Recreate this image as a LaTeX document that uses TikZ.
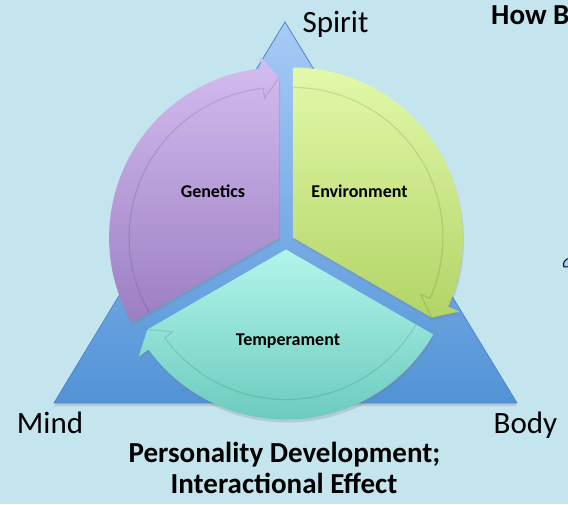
\documentclass[tikz,border=0pt]{standalone}
\usepackage{fontspec}
\setmainfont{Carlito}
\usetikzlibrary{shadows}
\definecolor{slidebg}{RGB}{196,228,238}
\definecolor{triTop}{RGB}{166,203,247}
\definecolor{triBot}{RGB}{82,147,214}
\definecolor{triEdge}{RGB}{79,134,198}
\definecolor{genTop}{RGB}{212,189,240}
\definecolor{genBot}{RGB}{156,126,194}
\definecolor{envTop}{RGB}{226,249,170}
\definecolor{envBot}{RGB}{178,212,102}
\definecolor{temTop}{RGB}{178,245,236}
\definecolor{temBot}{RGB}{108,203,190}
\tikzset{
  seg/.style={drop shadow={opacity=0.25,shadow xshift=1pt,shadow yshift=-3pt}},
  band/.style={line width=1.2pt,black,opacity=0.1},
  corner/.style={font=\fontsize{31}{36}\selectfont,anchor=base},
  inlabel/.style={font=\bfseries\fontsize{18}{22}\selectfont,anchor=base},
  caption/.style={font=\bfseries\fontsize{29}{34}\selectfont,anchor=base}
}
\begin{document}
\begin{tikzpicture}[x=1pt,y=1pt]
      \fill[slidebg] (0,0) rectangle (568,504);
      \useasboundingbox (0,0) rectangle (568,504);

      \coordinate (apex) at (285,482);
      \coordinate (mindc) at (54,101);
      \coordinate (bodyc) at (517,101);
      \draw[triEdge, line width=0.8pt, top color=triTop, bottom color=triBot, drop shadow={opacity=0.25,shadow xshift=0pt,shadow yshift=-3pt}] (apex) -- (bodyc) -- (mindc) -- cycle;

      \begin{scope}[shift={(279.1,266.5)}]
        \path[seg, top color=genTop, bottom color=genBot] (0,0) -- (210:170) arc[start angle=210, end angle=96, radius=170] -- (96:182) -- (90:160) -- cycle;
        \draw[band] (210:150) arc[start angle=210, end angle=96, radius=150] -- (96:140) -- (90:160);
      \end{scope}
      \begin{scope}[shift={(292.9,266.5)}]
        \path[seg, top color=envTop, bottom color=envBot] (0,0) -- (90:170) arc[start angle=90, end angle=-24, radius=170] -- (-24:182) -- (-30:160) -- cycle;
        \draw[band] (90:150) arc[start angle=90, end angle=-24, radius=150] -- (-24:140) -- (-30:160);
      \end{scope}
      \begin{scope}[shift={(286,254.5)}]
        \path[seg, top color=temTop, bottom color=temBot] (0,0) -- (-30:170) arc[start angle=-30, end angle=-144, radius=170] -- (-144:182) -- (-150:160) -- cycle;
        \draw[band] (-30:150) arc[start angle=-30, end angle=-144, radius=150] -- (-144:140) -- (-150:160);
      \end{scope}

      \node[inlabel] (genetics) at (213,306) {Genetics};
      \node[inlabel] (environment) at (359.5,306) {Environment};
      \node[inlabel] (temperament) at (288,158) {Temperament};

      \node[corner] (spirit) at (335.5,471) {Spirit};
      \node[corner] (mind) at (50,71) {Mind};
      \node[corner] (body) at (525.5,71) {Body};

      \node[caption] (title1) at (284.5,42) {Personality Development;};
      \node[caption] (title2) at (284,11) {Interactional Effect};

      \begin{scope}
        \clip (0,0) rectangle (568,504);
        \node[caption, anchor=base west, inner sep=0pt] (howb) at (491,479) {How B};
        \draw[black, line width=1pt, fill=triTop] (570,246) .. controls (565,245) and (562,241) .. (564,237) -- (570,237) -- cycle;
      \end{scope}
    \end{tikzpicture}
\end{document}
